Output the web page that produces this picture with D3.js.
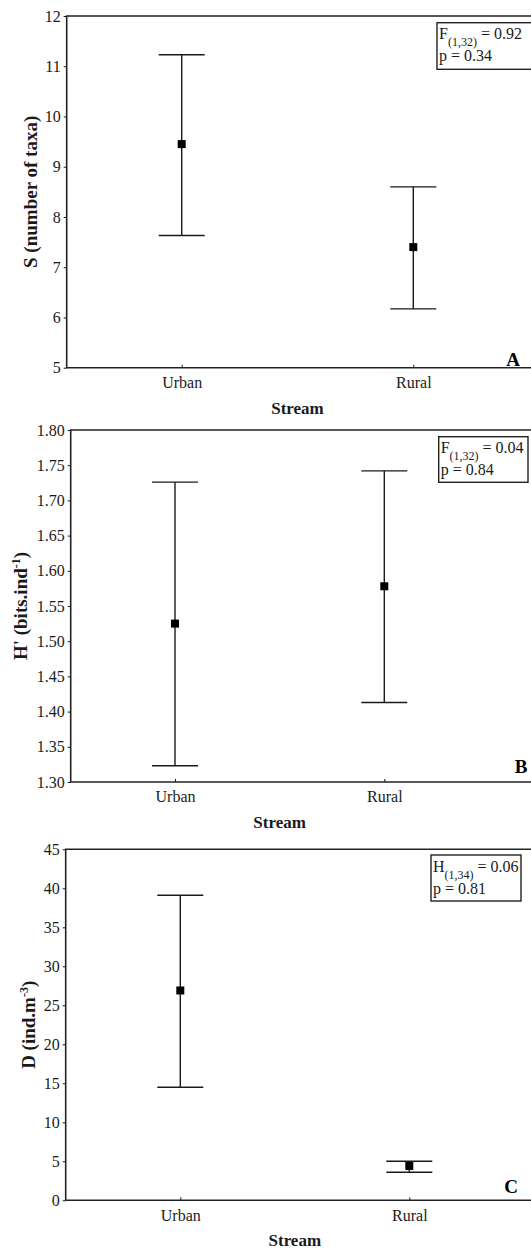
<!DOCTYPE html>
<html>
<head>
<meta charset="utf-8">
<script src="https://cdn.jsdelivr.net/npm/d3@7"></script>
<style>
  html, body { margin: 0; padding: 0; background: #fff; }
  svg { display: block; font-family: "Liberation Serif", "Times New Roman", serif; }
</style>
</head>
<body>
<svg id="chart" width="531" height="1251"></svg>
<script>
// ---------- data ----------
const categories = ["Urban", "Rural"];

const richnessMean  = [9.45, 7.40];
const richnessLower = [7.63, 6.17];
const richnessUpper = [11.23, 8.60];
const richnessTicks = [5, 6, 7, 8, 9, 10, 11, 12];

const diversityMean  = [1.525, 1.578];
const diversityLower = [1.323, 1.413];
const diversityUpper = [1.726, 1.742];
const diversityTicks = [1.30, 1.35, 1.40, 1.45, 1.50, 1.55, 1.60, 1.65, 1.70, 1.75, 1.80];

const densityMean  = [26.9, 4.4];
const densityLower = [14.5, 3.6];
const densityUpper = [39.1, 5.0];
const densityTicks = [0, 5, 10, 15, 20, 25, 30, 35, 40, 45];

const xTitle = "Stream";

// ---------- layout ----------
const svg = d3.select("#chart");
const panels = [
  { mean: richnessMean, lower: richnessLower, upper: richnessUpper, ticks: richnessTicks,
    domain: [5, 12], fmt: d3.format("d"),
    left: 66.7, top: 16, bottom: 367.7, xUrban: 181.7, xRural: 413.3,
    ylab: [{t: "S (number of taxa)"}], ylabX: 31, letter: "A", letterX: 513, letterY: 366,
    box: { x: 437, y: 22.7, w: 95, h: 46.6, stat: "F", sub: "(1,32)", val: " = 0.92", p: "p = 0.34" } },
  { mean: diversityMean, lower: diversityLower, upper: diversityUpper, ticks: diversityTicks,
    domain: [1.30, 1.80], fmt: d3.format(".2f"),
    left: 70.7, top: 430, bottom: 782, xUrban: 175, xRural: 384.3,
    ylab: [{t: "H' (bits.ind"}, {t: "-1", sup: true}, {t: ")"}], ylabX: 21, letter: "B", letterX: 521, letterY: 773,
    box: { x: 438.7, y: 436.7, w: 89.3, h: 45.6, stat: "F", sub: "(1,32)", val: " = 0.04", p: "p = 0.84" } },
  { mean: densityMean, lower: densityLower, upper: densityUpper, ticks: densityTicks,
    domain: [0, 45], fmt: d3.format("d"),
    left: 65.7, top: 849.3, bottom: 1200.3, xUrban: 180.3, xRural: 409.3,
    ylab: [{t: "D (ind.m"}, {t: "-3", sup: true}, {t: ")"}], ylabX: 29, letter: "C", letterX: 511, letterY: 1193,
    box: { x: 431, y: 855, w: 90, h: 46, stat: "H", sub: "(1,34)", val: " = 0.06", p: "p = 0.81" } }
];

const ink = "#1a1a1a";

panels.forEach(p => {
  const g = svg.append("g");
  const y = d3.scaleLinear().domain(p.domain).range([p.bottom, p.top]);
  const x = d3.scalePoint().domain(categories).range([p.xUrban, p.xRural]);
  const right = 534;

  // y axis
  const yAxis = d3.axisLeft(y).tickValues(p.ticks).tickFormat(p.fmt).tickSize(3).tickPadding(3);
  const ya = g.append("g").attr("transform", `translate(${p.left},0)`).call(yAxis);
  ya.select(".domain").remove();
  ya.selectAll(".tick line").attr("stroke", ink).attr("stroke-width", 1);
  ya.selectAll(".tick text").attr("fill", ink).style("font-size", "16px")
    .style("font-family", "'Liberation Serif', 'Times New Roman', serif");

  // x axis (ticks inward)
  const xAxis = d3.axisBottom(x).tickSize(-3).tickPadding(9);
  const xa = g.append("g").attr("transform", `translate(0,${p.bottom})`).call(xAxis);
  xa.select(".domain").remove();
  xa.selectAll(".tick line").attr("stroke", ink).attr("stroke-width", 1);
  xa.selectAll(".tick text").attr("fill", ink).style("font-size", "16px")
    .style("font-family", "'Liberation Serif', 'Times New Roman', serif");

  // frame (left, top, bottom)
  g.append("path")
    .attr("d", `M${right},${p.top}H${p.left}V${p.bottom}H${right}`)
    .attr("fill", "none").attr("stroke", "#222").attr("stroke-width", 1.6);

  // error bars
  const capW = 23;
  const eb = g.append("g").attr("stroke", ink).attr("stroke-width", 1.4).attr("fill", "none");
  categories.forEach((c, i) => {
    eb.append("line").attr("x1", x(c)).attr("x2", x(c)).attr("y1", y(p.lower[i])).attr("y2", y(p.upper[i]));
    eb.append("line").attr("x1", x(c) - capW).attr("x2", x(c) + capW).attr("y1", y(p.upper[i])).attr("y2", y(p.upper[i]));
    eb.append("line").attr("x1", x(c) - capW).attr("x2", x(c) + capW).attr("y1", y(p.lower[i])).attr("y2", y(p.lower[i]));
  });
  g.selectAll("rect.mk").data(categories).enter().append("rect")
    .attr("class", "mk")
    .attr("x", c => x(c) - 4).attr("y", (c, i) => y(p.mean[i]) - 4)
    .attr("width", 8).attr("height", 8).attr("fill", "#000");

  // x title
  g.append("text").attr("x", (p.xUrban + p.xRural) / 2).attr("y", p.bottom + 46)
    .attr("text-anchor", "middle").attr("font-weight", "bold").attr("font-size", 17)
    .attr("fill", ink).text(xTitle);

  // y title
  const yt = g.append("text")
    .attr("transform", `translate(${p.ylabX + 6},${(p.top + p.bottom) / 2}) rotate(-90)`)
    .attr("text-anchor", "middle").attr("font-weight", "bold").attr("font-size", 19).attr("fill", ink);
  p.ylab.forEach(s => {
    const ts = yt.append("tspan").text(s.t);
    if (s.sup) ts.attr("baseline-shift", "super").attr("font-size", 12);
  });

  // panel letter
  g.append("text").attr("x", p.letterX).attr("y", p.letterY).attr("text-anchor", "middle")
    .attr("font-weight", "bold").attr("font-size", 19).attr("fill", "#000").text(p.letter);

  // stats box
  const b = p.box;
  g.append("rect").attr("x", b.x).attr("y", b.y).attr("width", b.w).attr("height", b.h)
    .attr("fill", "#fff").attr("stroke", "#222").attr("stroke-width", 1.4);
  const t1 = g.append("text").attr("x", b.x + 2).attr("y", b.y + 16.5).attr("font-size", 16).attr("fill", ink);
  t1.append("tspan").text(b.stat);
  t1.append("tspan").attr("baseline-shift", "sub").attr("font-size", 12).text(b.sub);
  t1.append("tspan").attr("baseline-shift", "0").text(b.val);
  g.append("text").attr("x", b.x + 2).attr("y", b.y + 38.5).attr("font-size", 16).attr("fill", ink).text(b.p);
});
</script>
</body>
</html>
